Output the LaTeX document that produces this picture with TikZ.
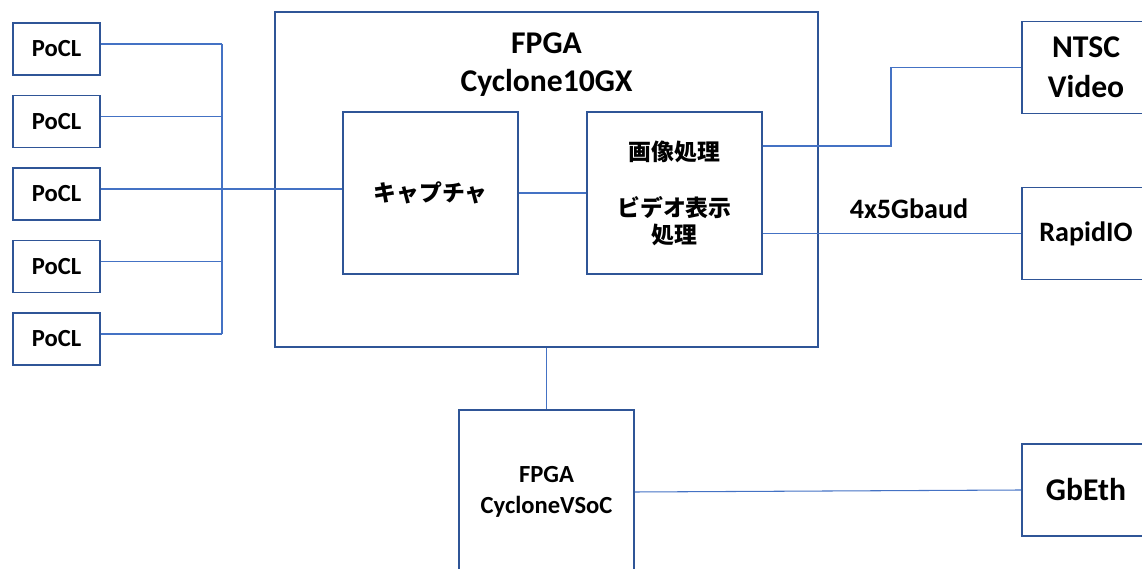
\documentclass[tikz,border=0pt]{standalone}
\usepackage{fontspec}
\setmainfont{Carlito}
\newfontfamily\cjk{Noto Sans CJK JP}
\usepackage{tikz}
\usetikzlibrary{positioning, calc}
\definecolor{boxblue}{HTML}{2F5597}
\definecolor{wireblue}{HTML}{4472C4}

\begin{document}
\begin{tikzpicture}[
    block/.style = {draw=boxblue, line width=1.1pt, fill=white, inner sep=0pt, align=center, font=\bfseries},
    pocl/.style = {block, minimum width=1.74cm, minimum height=1.04cm, font=\bfseries\fontsize{14}{16}\selectfont},
    unit/.style = {block, minimum width=3.5cm, minimum height=3.24cm},
    ext/.style = {block, minimum width=2.56cm, minimum height=1.84cm},
    wire/.style = {draw=wireblue, line width=0.6pt}
]
\clip (0, 0) rectangle (22.84, 11.38);

% Main FPGA
\node (fpga) [block, minimum width=10.86cm, minimum height=6.7cm] at (10.93, 7.79) {};
\node (fpgatitle) [align=center, font=\bfseries\fontsize{18}{21.5}\selectfont] at (10.93, 10.08) {FPGA\\Cyclone10GX};

% Capture and processing
\node (cap) [unit, font=\cjk\bfseries\fontsize{13}{15.4}\selectfont] at (8.61, 7.52) {キャプチャ};
\node (proc) [unit, font=\cjk\bfseries\fontsize{13}{15.4}\selectfont] at (13.49, 7.52) {画像処理\\[0.58cm]ビデオ表示\\処理};

% Camera inputs
\node (p1) [pocl] at (1.13, 10.40) {PoCL};
\node (p2) [pocl] at (1.13, 8.95) {PoCL};
\node (p3) [pocl] at (1.13, 7.50) {PoCL};
\node (p4) [pocl] at (1.13, 6.05) {PoCL};
\node (p5) [pocl] at (1.13, 4.60) {PoCL};

% Outputs
\node (ntsc) [ext, font=\bfseries\fontsize{18}{23}\selectfont] at (21.72, 10.03) {NTSC\\Video};
\node (rapid) [ext, font=\bfseries\fontsize{16}{19}\selectfont] at (21.72, 6.71) {RapidIO};
\node (gbeth) [ext, font=\bfseries\fontsize{18}{21}\selectfont] at (21.72, 1.58) {GbEth};

% SoC
\node (vsoc) [unit, minimum height=3.28cm, font=\bfseries\fontsize{14}{17.6}\selectfont] at (10.93, 1.54) {FPGA\\CycloneVSoC};

% Bus
\coordinate (bus) at (4.44, 0);
\coordinate (pin1) at ([yshift=1mm]p1.east);
\coordinate (pin2) at ([yshift=1mm]p2.east);
\coordinate (pin3) at ([yshift=1mm]p3.east);
\coordinate (pin4) at ([yshift=1mm]p4.east);
\coordinate (pin5) at ([yshift=1mm]p5.east);
\coordinate (bend) at (17.82, 10.03);

% Connections
\draw [wire] (pin1) -- (pin1 -| bus);
\draw [wire] (pin2) -- (pin2 -| bus);
\draw [wire] (pin3) -- (pin3 -| bus);
\draw [wire] (pin4) -- (pin4 -| bus);
\draw [wire] (pin5) -- (pin5 -| bus);
\draw [wire] (pin1 -| bus) -- (pin5 -| bus);
\draw [wire] (pin3 -| bus) -- (pin3 -| cap.west);
\draw [wire] (cap) -- (proc);
\draw [wire] (proc.east |- 0, 8.46) -| (bend) -- (ntsc.west);
\draw [wire] (proc.east |- rapid.west) -- (rapid.west);
\draw [wire] (fpga.south) -- (vsoc.north);
\draw [wire] (vsoc.east) -- (gbeth.west);

\node (rate) [font=\bfseries\fontsize{16}{19}\selectfont] at (18.18, 7.20) {4x5Gbaud};

\end{tikzpicture}
\end{document}
